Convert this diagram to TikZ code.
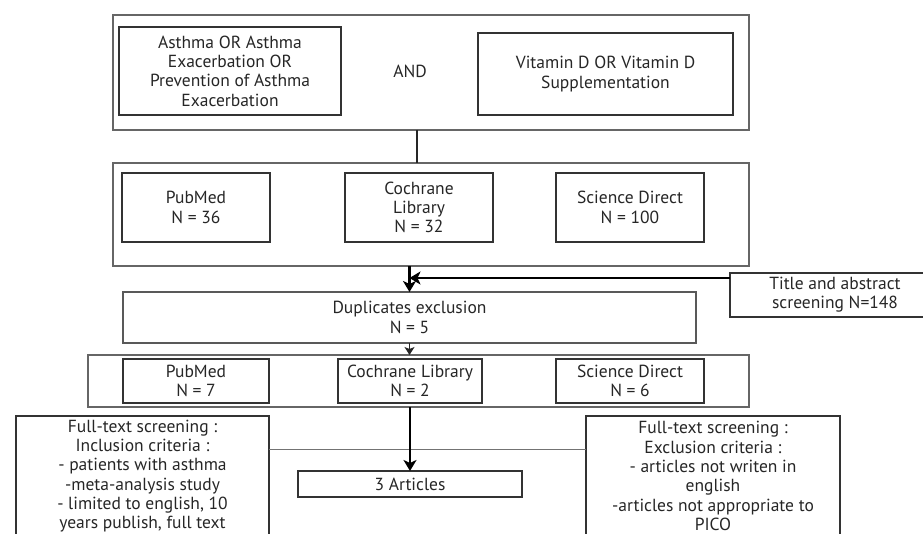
\documentclass[tikz,border=0pt]{standalone}
\usepackage{fontspec}
\setmainfont{PT Sans}
\usetikzlibrary{arrows.meta}

\tikzset{
  groupbox/.style={draw=black!60, line width=1.2pt, inner sep=0pt, outer sep=0pt},
  itembox/.style={draw=black!80, line width=1.1pt, inner sep=0pt, outer sep=0pt, align=center, text=black!85},
  plaintext/.style={inner sep=0pt, text=black!85},
  joinline/.style={draw=black!85, line width=2.6pt},
  flowarrow/.style={draw=black, line width=2.2pt, -{Stealth[length=11pt,width=13pt,inset=3pt]}},
  smallarrow/.style={draw=black!85, line width=1.3pt, -{Stealth[length=8pt,width=10pt,inset=2pt]}},
  crossline/.style={draw=black!55, line width=0.9pt},
}

\begin{document}
\begin{tikzpicture}[x=1pt, y=-1pt, font=\fontsize{17.5}{19.3}\selectfont]
\useasboundingbox (0,0) rectangle (923,534);
% Specify the group boxes:
\node[groupbox, minimum width=636pt, minimum height=115pt] (search) at (431,72.5) {};
\node[groupbox, minimum width=636pt, minimum height=103pt] (sources) at (431,214.5) {};
\node[groupbox, minimum width=661pt, minimum height=52pt] (results) at (418.5,381) {};
% Specify the search terms:
\node[itembox, minimum width=222pt, minimum height=88pt] (asthma) at (230,71)
  {Asthma OR Asthma\\Exacerbation OR\\Prevention of Asthma\\Exacerbation};
\node[plaintext] (andtext) at (410,71) {AND};
\node[itembox, minimum width=255pt, minimum height=82pt] (vitamin) at (605.5,74)
  {Vitamin D OR Vitamin D\\Supplementation};
% Specify the databases (first search):
\node[itembox, minimum width=148pt, minimum height=69pt] (pubmedA) at (196,207.5) {PubMed\\N = 36};
\node[itembox, minimum width=148pt, minimum height=69pt] (cochraneA) at (419,207.5) {Cochrane\\Library\\N = 32};
\node[itembox, minimum width=148pt, minimum height=69pt] (scienceA) at (630,207.5) {Science Direct\\N = 100};
% Specify the screening steps:
\node[itembox, minimum width=210pt, minimum height=44pt] (titlebox) at (835,295)
  {Title and abstract\\screening N=148};
\node[itembox, draw=black!65, minimum width=573pt, minimum height=51pt] (dupl) at (409.5,317.5)
  {Duplicates exclusion\\N = 5};
% Specify the databases (after screening):
\node[itembox, minimum width=146pt, minimum height=44pt] (pubmedB) at (196,381) {PubMed\\N = 7};
\node[itembox, minimum width=144pt, minimum height=44pt] (cochraneB) at (410,381) {Cochrane Library\\N = 2};
\node[itembox, minimum width=148pt, minimum height=44pt] (scienceB) at (630,381) {Science Direct\\N = 6};
% Specify the full-text criteria and the result:
\node[itembox, minimum width=253pt, minimum height=120pt] (inclusion) at (142.5,476)
  {Full-text screening :\\Inclusion criteria :\\- patients with asthma\\-meta-analysis study\\- limited to english, 10\\years publish, full text};
\node[itembox, minimum width=254pt, minimum height=120pt] (exclusion) at (713,476)
  {Full-text screening :\\Exclusion criteria :\\- articles not writen in\\english\\-articles not appropriate to\\PICO};
\node[itembox, minimum width=224pt, minimum height=26pt] (articles) at (410,484) {3 Articles};
% Draw the connectors:
\draw[crossline] ([yshift=27pt]inclusion.east) -- ([yshift=27pt]exclusion.west);
\draw[joinline] ([xshift=-14pt]search.south) -- ([xshift=-14pt]sources.north);
\draw[flowarrow] (dupl |- sources.south) -- (dupl.north);
\draw[flowarrow] ([yshift=-5pt]titlebox.north west) -- ([yshift=-5pt]titlebox.north west -| dupl.north);
\draw[smallarrow] (dupl.south) -- (dupl.south |- results.north);
\draw[flowarrow] (articles |- results.south) -- (articles.north);
\end{tikzpicture}
\end{document}
